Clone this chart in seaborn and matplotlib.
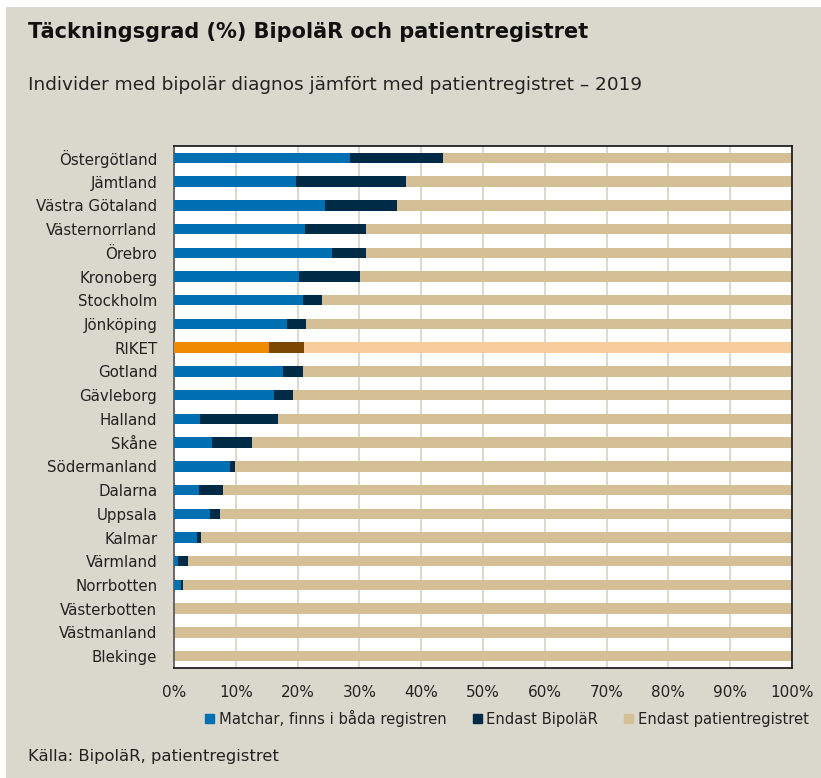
import pandas as pd
import matplotlib.pyplot as plt
import matplotlib.patches as mpatches
import seaborn as sns

# regioner, uppifrån och ned
regioner = ["Östergötland", "Jämtland", "Västra Götaland", "Västernorrland", "Örebro",
            "Kronoberg", "Stockholm", "Jönköping", "RIKET", "Gotland", "Gävleborg",
            "Halland", "Skåne", "Södermanland", "Dalarna", "Uppsala", "Kalmar",
            "Värmland", "Norrbotten", "Västerbotten", "Västmanland", "Blekinge"]
# andel (%) som matchar, finns i båda registren
matchar = [28.5, 19.8, 24.5, 21.2, 25.5, 20.2, 20.8, 18.3, 15.4, 17.7, 16.2,
           4.2, 6.1, 9.0, 4.0, 5.9, 3.8, 0.7, 1.1, 0.0, 0.0, 0.0]
# andel (%) endast i BipoläR
endast_bipolar = [15.1, 17.8, 11.6, 9.9, 5.6, 9.9, 3.1, 3.1, 5.6, 3.1, 3.1,
                  12.6, 6.6, 0.8, 4.0, 1.6, 0.5, 1.5, 0.4, 0.0, 0.0, 0.0]
# andel (%) endast i patientregistret = resten
endast_patient = [100 - a - b for a, b in zip(matchar, endast_bipolar)]

df = pd.DataFrame({"region": regioner, "matchar": matchar,
                   "bipolar": endast_bipolar, "patient": endast_patient})
df["cum_bipolar"] = df["matchar"] + df["bipolar"]
df["cum_patient"] = df["cum_bipolar"] + df["patient"]

BG = "#DAD8CC"
BLUE, DARK, BEIGE = "#0070B2", "#002B47", "#D4BF96"
ORANGE, BROWN, PEACH = "#EE8B00", "#7A4600", "#F7CD9B"

def pal(normal, riket):
    return {r: (riket if r == "RIKET" else normal) for r in regioner}

sns.set_style("white")
plt.rcParams['font.family'] = ['DejaVu Sans']

fig = plt.figure(figsize=(8.21, 7.78), dpi=100, facecolor="white")
fig.patches.append(mpatches.Rectangle((6 / 821, 0), 1, 1 - 7 / 778, transform=fig.transFigure,
                                      facecolor=BG, edgecolor="none", zorder=-10))
ax = fig.add_axes([174 / 821, 1 - 668 / 778, 618 / 821, 522 / 778])
ax.set_facecolor("white")

w = 0.44
for col, normal, riket, z in [("cum_patient", BEIGE, PEACH, 2),
                              ("cum_bipolar", DARK, BROWN, 3),
                              ("matchar", BLUE, ORANGE, 4)]:
    sns.barplot(data=df, x=col, y="region", hue="region", palette=pal(normal, riket),
                order=regioner, orient="h", width=w, saturation=1, legend=False,
                linewidth=0, ax=ax, zorder=z)

ax.set_xlim(0, 100)
ax.set_ylim(len(regioner) - 0.5, -0.5)
ax.set_xticks(range(0, 101, 10))
ax.set_xticklabels([f"{v}%" for v in range(0, 101, 10)], fontsize=11, color="#222222")
ax.tick_params(axis="x", length=0, pad=12)
ax.set_yticks(range(len(regioner)))
ax.set_yticklabels(regioner, fontsize=10.8, color="#222222")
ax.tick_params(axis="y", length=0, pad=12)
ax.set_yticks([i + 0.5 for i in range(len(regioner) - 1)], minor=True)
ax.tick_params(axis="y", which="minor", length=5, width=1, color="#333333", direction="out")
ax.set_xlabel("")
ax.set_ylabel("")
ax.grid(axis="x", color="#D5D2C6", linewidth=1.2, zorder=0)
ax.set_axisbelow(True)
for side in ["top", "right", "bottom"]:
    ax.spines[side].set_color("#111111")
    ax.spines[side].set_linewidth(1.2)
ax.spines["left"].set_color("#555555")
ax.spines["left"].set_linewidth(1.2)

fig.text(28 / 821, 1 - 32 / 778, "Täckningsgrad (%) BipoläR och patientregistret",
         fontsize=15, fontweight="bold", va="center", ha="left", color="#111111")
fig.text(28 / 821, 1 - 85 / 778, "Individer med bipolär diagnos jämfört med patientregistret – 2019",
         fontsize=13.3, va="center", ha="left", color="#222222")
fig.text(28 / 821, 1 - 757 / 778, "Källa: BipoläR, patientregistret",
         fontsize=11.8, va="center", ha="left", color="#222222")

handles = [mpatches.Patch(color=BLUE, label="Matchar, finns i båda registren"),
           mpatches.Patch(color=DARK, label="Endast BipoläR"),
           mpatches.Patch(color=BEIGE, label="Endast patientregistret")]
fig.legend(handles=handles, loc="center", bbox_to_anchor=(507 / 821, 1 - 718 / 778),
           ncol=3, frameon=False, fontsize=10.6, handlelength=0.6, handleheight=0.6,
           handletextpad=0.3, columnspacing=1.8, labelcolor="#222222")

fig.savefig("out.png", dpi=100, facecolor="white")
